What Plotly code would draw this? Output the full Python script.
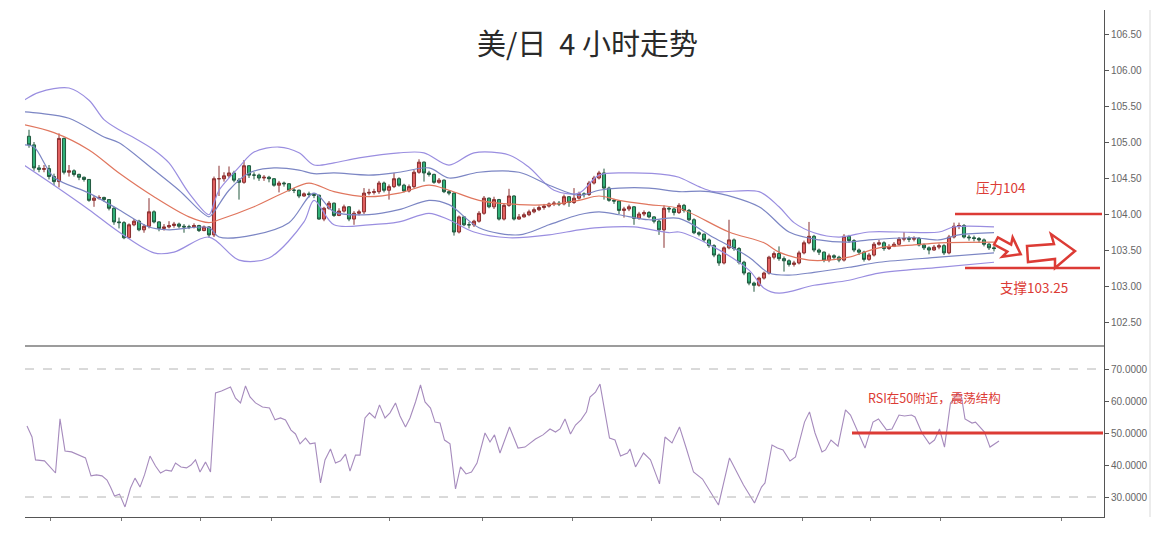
import plotly.graph_objects as go
import math

# ---------------- DATA ----------------
first_open = 105.08
close = [
    104.96, 104.64, 104.62, 104.63, 104.52, 104.45, 105.05, 104.58, 104.60, 104.55,
    104.51, 104.48, 104.19, 104.22, 104.23, 104.20, 104.08, 103.89, 103.88, 103.67,
    103.85, 103.90, 103.78, 103.83, 104.03, 103.89, 103.80, 103.82, 103.84, 103.86,
    103.83, 103.82, 103.82, 103.84, 103.77, 103.82, 103.71, 104.49, 104.49, 104.53,
    104.57, 104.47, 104.44, 104.67, 104.54, 104.54, 104.50, 104.51, 104.49, 104.40,
    104.43, 104.42, 104.33, 104.33, 104.25, 104.28, 104.27, 104.26, 103.93, 104.08,
    104.15, 103.98, 104.04, 104.10, 103.93, 104.01, 104.03, 104.29, 104.30, 104.31,
    104.43, 104.33, 104.38, 104.49, 104.40, 104.32, 104.38, 104.58, 104.72, 104.57,
    104.55, 104.44, 104.47, 104.31, 104.29, 103.75, 103.96, 103.85, 103.85, 103.90,
    104.01, 104.22, 104.10, 104.20, 103.93, 104.12, 104.25, 103.93, 103.96, 103.99,
    104.03, 104.06, 104.09, 104.11, 104.14, 104.15, 104.14, 104.24, 104.16, 104.22,
    104.28, 104.27, 104.43, 104.50, 104.57, 104.36, 104.19, 104.18, 104.05, 104.07,
    104.10, 103.94, 104.00, 104.02, 103.96, 103.90, 103.78, 104.08, 104.07, 104.02,
    104.12, 104.05, 103.92, 103.74, 103.72, 103.64, 103.56, 103.43, 103.32, 103.53,
    103.64, 103.52, 103.33, 103.18, 103.04, 103.01, 103.11, 103.18, 103.40, 103.45,
    103.38, 103.35, 103.30, 103.32, 103.46, 103.60, 103.69, 103.50, 103.47, 103.36,
    103.42, 103.40, 103.36, 103.69, 103.63, 103.50, 103.47, 103.37, 103.43, 103.58,
    103.60, 103.52, 103.55, 103.58, 103.65, 103.66, 103.65, 103.66, 103.57, 103.53,
    103.50, 103.54, 103.56, 103.46, 103.68, 103.83, 103.84, 103.68, 103.67, 103.66,
    103.64, 103.58, 103.53, 103.52]
high = [
    105.17, 105.00, 104.68, 104.68, 104.68, 104.56, 105.12, 105.06, 104.68, 104.62,
    104.56, 104.52, 104.48, 104.25, 104.26, 104.24, 104.20, 104.10, 103.95, 103.90,
    103.87, 103.93, 103.92, 103.86, 104.22, 104.05, 103.90, 103.86, 103.90, 103.89,
    103.88, 103.86, 103.85, 103.87, 103.85, 103.84, 103.83, 104.52, 104.67, 104.58,
    104.66, 104.60, 104.50, 104.75, 104.68, 104.58, 104.56, 104.54, 104.53, 104.50,
    104.46, 104.45, 104.43, 104.36, 104.34, 104.30, 104.31, 104.29, 104.27, 104.10,
    104.18, 104.16, 104.08, 104.13, 104.11, 104.04, 104.06, 104.36, 104.35, 104.35,
    104.46, 104.45, 104.41, 104.57, 104.51, 104.42, 104.41, 104.61, 104.76, 104.73,
    104.60, 104.56, 104.50, 104.48, 104.33, 104.30, 103.98, 103.97, 103.89, 103.92,
    104.04, 104.25, 104.23, 104.24, 104.21, 104.15, 104.35, 104.26, 104.00, 104.02,
    104.06, 104.09, 104.12, 104.14, 104.16, 104.18, 104.18, 104.27, 104.25, 104.36,
    104.31, 104.30, 104.46, 104.53, 104.60, 104.63, 104.38, 104.21, 104.19, 104.10,
    104.13, 104.11, 104.03, 104.05, 104.04, 103.97, 103.92, 104.12, 104.10, 104.09,
    104.15, 104.14, 104.07, 103.94, 103.76, 103.73, 103.66, 103.58, 103.45, 103.55,
    103.92, 103.66, 103.54, 103.35, 103.19, 103.06, 103.13, 103.20, 103.42, 103.48,
    103.55, 103.41, 103.37, 103.35, 103.49, 103.63, 103.89, 103.71, 103.52, 103.48,
    103.45, 103.44, 103.42, 103.72, 103.71, 103.65, 103.52, 103.49, 103.46, 103.61,
    103.64, 103.62, 103.58, 103.61, 103.68, 103.75, 103.69, 103.69, 103.68, 103.59,
    103.55, 103.57, 103.59, 103.58, 103.71, 103.88, 103.88, 103.86, 103.71, 103.70,
    103.68, 103.66, 103.60, 103.56]
low = [
    104.92, 104.60, 104.58, 104.58, 104.48, 104.40, 104.37, 104.55, 104.52, 104.52,
    104.47, 104.45, 104.17, 104.10, 104.20, 104.17, 104.05, 103.85, 103.80, 103.65,
    103.66, 103.83, 103.76, 103.74, 103.80, 103.87, 103.76, 103.77, 103.80, 103.81,
    103.80, 103.74, 103.79, 103.80, 103.75, 103.76, 103.67, 103.68, 104.25, 104.45,
    104.50, 104.44, 104.20, 104.42, 104.50, 104.48, 104.46, 104.46, 104.44, 104.38,
    104.30, 104.38, 104.31, 104.29, 104.22, 104.24, 104.23, 104.22, 103.92, 103.90,
    104.06, 103.96, 103.97, 104.02, 103.90, 103.85, 103.98, 104.00, 104.26, 104.27,
    104.28, 104.30, 104.20, 104.36, 104.38, 104.30, 104.30, 104.36, 104.56, 104.45,
    104.52, 104.42, 104.42, 104.29, 104.26, 103.70, 103.73, 103.83, 103.80, 103.82,
    103.88, 103.99, 104.08, 104.07, 103.91, 103.91, 104.10, 103.91, 103.92, 103.95,
    103.97, 104.01, 104.04, 104.06, 104.09, 104.11, 104.11, 104.12, 104.10, 104.14,
    104.20, 104.23, 104.25, 104.41, 104.48, 104.20, 104.17, 104.14, 104.00, 103.95,
    104.04, 103.85, 103.92, 103.97, 103.94, 103.87, 103.71, 103.53, 104.02, 103.98,
    104.00, 104.02, 103.90, 103.72, 103.69, 103.61, 103.53, 103.40, 103.28, 103.30,
    103.51, 103.49, 103.30, 103.15, 103.01, 102.92, 102.99, 103.09, 103.16, 103.37,
    103.35, 103.20, 103.27, 103.27, 103.30, 103.44, 103.58, 103.47, 103.43, 103.33,
    103.33, 103.36, 103.33, 103.34, 103.60, 103.47, 103.43, 103.34, 103.35, 103.41,
    103.56, 103.49, 103.50, 103.54, 103.56, 103.62, 103.61, 103.62, 103.55, 103.50,
    103.44, 103.49, 103.51, 103.43, 103.44, 103.66, 103.79, 103.66, 103.63, 103.62,
    103.60, 103.55, 103.50, 103.48]
opens = [first_open] + close[:-1]
bars = list(range(len(close)))

# Bollinger band lines (read at sample bars)
bb_up2_i = [-1, 2, 8, 12, 15, 18, 21, 25, 28, 32, 36, 37, 38, 42, 45, 50, 54, 57, 61, 66,
            74, 79, 84, 89, 96, 100, 105, 110, 114, 120, 128, 130, 134, 137, 146, 150, 153,
            157, 162, 168, 174, 182, 185, 193]
bb_up2_v = [105.58, 105.69, 105.75, 105.58, 105.31, 105.17, 105.06, 104.89, 104.71, 104.29,
            103.99, 104.15, 104.33, 104.65, 104.86, 104.93, 104.85, 104.68, 104.71, 104.78,
            104.85, 104.85, 104.68, 104.85, 104.82, 104.65, 104.33, 104.29, 104.54, 104.57,
            104.54, 104.51, 104.38, 104.31, 104.31, 104.10, 103.88, 103.74, 103.68, 103.75,
            103.75, 103.75, 103.82, 103.82]
bb_up1_i = [-1, 2, 8, 15, 18, 25, 30, 36, 37, 40, 44, 49, 54, 57, 61, 68, 74, 80, 84, 90,
            98, 104, 110, 114, 118, 124, 130, 136, 146, 152, 158, 164, 168, 177, 182, 186, 193]
bb_up1_v = [105.42, 105.40, 105.33, 105.07, 104.99, 104.61, 104.33, 103.96, 104.03, 104.33,
            104.57, 104.64, 104.61, 104.56, 104.57, 104.54, 104.58, 104.64, 104.50, 104.58,
            104.58, 104.40, 104.26, 104.33, 104.36, 104.36, 104.31, 104.31, 104.10, 103.75,
            103.64, 103.61, 103.64, 103.67, 103.64, 103.71, 103.74]
bb_mid_i = [-1, 5, 12, 18, 25, 32, 36, 38, 45, 52, 56, 61, 68, 74, 80, 84, 90, 98, 104, 110,
            114, 118, 124, 130, 140, 147, 150, 156, 160, 164, 170, 177, 182, 193]
bb_mid_v = [105.24, 105.13, 104.89, 104.57, 104.24, 103.96, 103.88, 103.92, 104.10, 104.33,
            104.43, 104.31, 104.24, 104.29, 104.40, 104.33, 104.19, 104.13, 104.13, 104.19,
            104.25, 104.19, 104.13, 104.08, 103.75, 103.60, 103.47, 103.36, 103.36, 103.40,
            103.53, 103.57, 103.60, 103.61]
bb_dn1_i = [-1, 1, 5, 12, 18, 24, 28, 36, 38, 45, 52, 57, 61, 68, 74, 80, 84, 90, 98, 104,
            110, 114, 118, 124, 130, 137, 144, 148, 152, 157, 164, 170, 182, 193]
bb_dn1_v = [104.96, 104.93, 104.51, 104.29, 104.06, 103.82, 103.78, 103.81, 103.68, 103.71,
            103.88, 104.29, 104.03, 103.99, 104.06, 104.19, 104.13, 103.81, 103.71, 103.85,
            103.99, 104.03, 103.99, 103.92, 103.94, 103.67, 103.40, 103.18, 103.15, 103.19,
            103.26, 103.33, 103.40, 103.46]
bb_dn2_i = [-1, 5, 12, 18, 25, 29, 36, 42, 48, 55, 57, 61, 68, 74, 80, 84, 89, 96, 104, 110,
            114, 121, 128, 130, 137, 144, 147, 150, 157, 164, 170, 182, 193]
bb_dn2_v = [104.68, 104.40, 104.06, 103.75, 103.46, 103.47, 103.68, 103.36, 103.39, 103.89,
            104.19, 103.85, 103.85, 103.89, 104.01, 103.92, 103.75, 103.67, 103.71, 103.78,
            103.81, 103.82, 103.74, 103.75, 103.54, 103.22, 102.97, 102.90, 103.01, 103.08,
            103.18, 103.26, 103.33]

# RSI line (bar position, value)
rsi_i = [-0.4, 0.6, 1.3, 3.1, 4.2, 5.3, 6.2, 7.2, 8.5, 11.3, 12.4, 13.5, 14.6, 15.6, 16.3,
         17.1, 18.1, 19.2, 20.3, 21.2, 22.2, 23.1, 24.2, 25.3, 26.3, 27.4, 28.5, 29.3, 30.4,
         31.5, 32.4, 33.3, 34.2, 35.3, 36.3, 37.3, 38.5, 40.3, 41.3, 42.3, 43.3, 44.2, 45.3,
         46.7, 48.1, 49.2, 50.3, 51.3, 52.4, 53.3, 54.2, 55.3, 56.2, 57.2, 58.3, 59.2, 60.3,
         61.3, 62.3, 63.3, 64.2, 65.3, 66.2, 67.2, 68.1, 69.2, 70.1, 71.2, 72.2, 73.3, 74.2,
         75.3, 76.2, 77.3, 78.3, 79.2, 80.3, 81.2, 82.2, 83.1, 84.2, 85.3, 86.3, 87.4, 88.5,
         89.6, 91.2, 92.2, 93.1, 94.2, 96.1, 97.8, 99.2, 101.3, 102.8, 104.2, 105.3, 106.2,
         107.2, 108.3, 109.3, 110.4, 111.5, 112.2, 113.3, 114.2, 116.1, 117.2, 118.3, 119.7,
         120.2, 121.3, 122.9, 124.3, 126.1, 127.2, 128.6, 130.1, 131.5, 132.9, 134.7, 136.5,
         137.9, 140.1, 142.9, 145.1, 146.5, 147.2, 148.6, 149.7, 150.8, 152.2, 153.3, 155.1,
         156.1, 157.2, 158.6, 159.3, 160.4, 161.8, 163.3, 164.3, 165.8, 167.2, 168.8, 169.9,
         171.5, 172.6, 174.0, 175.1, 176.5, 177.2, 178.6, 180.1, 181.1, 182.1, 183.1, 184.3,
         185.8, 186.5, 187.2, 188.6, 189.3, 191.1, 192.2, 194.0]
rsi_v = [52.2, 48.75, 41.6, 41.3, 39.4, 37.5, 54.4, 44.4, 44.1, 42.2, 36.6, 36.9, 36.6, 35.3,
         33.1, 30.3, 30.9, 26.9, 32.8, 35.9, 33.1, 36.9, 42.8, 39.7, 37.5, 38.4, 38.1, 40.6,
         39.4, 39.1, 40.0, 41.6, 37.8, 40.9, 37.8, 62.5, 63.1, 64.4, 60.9, 59.4, 64.7, 61.3,
         59.4, 58.1, 57.8, 54.1, 54.7, 54.1, 50.9, 49.7, 46.6, 48.4, 46.6, 46.9, 34.4, 41.6,
         45.0, 40.6, 41.3, 43.4, 38.1, 43.1, 43.1, 54.7, 56.3, 54.7, 58.8, 54.7, 56.3, 59.4,
         55.3, 51.9, 54.7, 59.7, 65.0, 59.7, 57.8, 53.4, 53.1, 47.8, 46.6, 32.5, 39.4, 37.2,
         37.8, 40.6, 50.0, 47.2, 49.4, 43.75, 51.9, 45.3, 45.6, 48.1, 49.4, 51.25, 50.3, 51.25,
         54.4, 49.7, 52.5, 54.1, 56.6, 61.25, 62.8, 65.3, 48.4, 47.8, 42.8, 43.75, 45.0, 39.4,
         43.75, 41.6, 34.1, 48.75, 46.9, 51.9, 45.0, 37.8, 35.6, 31.25, 27.5, 42.2, 33.75,
         28.1, 33.1, 34.4, 46.25, 45.3, 44.7, 41.25, 42.5, 53.4, 56.6, 50.0, 44.1, 44.7, 47.8,
         45.9, 57.2, 55.6, 50.0, 45.3, 53.4, 54.4, 51.0, 51.25, 55.6, 55.3, 55.6, 55.0, 50.0,
         46.6, 47.8, 51.25, 45.6, 59.4, 62.5, 61.25, 54.4, 53.1, 53.4, 50.3, 45.6, 47.5]

price_ticks = [102.5, 103.0, 103.5, 104.0, 104.5, 105.0, 105.5, 106.0, 106.5]
rsi_ticks = [30, 40, 50, 60, 70]
time_ticks = [4.2, 18.4, 34.2, 48.4, 72, 90.6, 108.6, 124.4, 138.2, 154.6, 168.2, 182.2, 206.4]
resistance = 104.00
support = 103.25
rsi_mid = 50
rsi_high, rsi_low = 70, 30

title_text = "美/日\u00a0\u00a04\u00a0小时走势"
res_text = "压力104"
sup_text = "支撑103.25"
rsi_text = "RSI在50附近，震荡结构"

# ---------------- LAYOUT HELPERS ----------------
# the page body has an 8px default margin: the figure is sized so that it fills
# the 1162x542 window exactly, and all screen positions below are window pixels.
OFF = 8
W, H = 1162 - OFF, 542 - OFF
ML, MR, MT, MB = 25 - OFF, 58, 10 - OFF, 25
PW, PH = W - ML - MR, H - MT - MB
SPLIT_PX = 345           # window y of the panel separator
BOTTOM_PX = 517          # window y of the plot bottom
split = (BOTTOM_PX - SPLIT_PX) / PH


def px(x):
    return (x - OFF - ML) / PW


def py(y):
    return (BOTTOM_PX - y) / PH


RED = "#dc3b35"
CJK = "Noto Sans CJK SC"

fig = go.Figure()
fig.add_trace(go.Candlestick(
    x=bars, open=opens, high=high, low=low, close=close,
    increasing=dict(fillcolor="#e06060", line=dict(color="#8a3030", width=1)),
    decreasing=dict(fillcolor="#30b077", line=dict(color="#22583f", width=1)),
    whiskerwidth=0, xaxis="x", yaxis="y", showlegend=False, hoverinfo="skip"))

band_styles = [
    (bb_up2_i, bb_up2_v, "#9a8ee0"),
    (bb_up1_i, bb_up1_v, "#7c86c4"),
    (bb_mid_i, bb_mid_v, "#e0765e"),
    (bb_dn1_i, bb_dn1_v, "#7c86c4"),
    (bb_dn2_i, bb_dn2_v, "#9a8ee0"),
]
for xi, yv, col in band_styles:
    fig.add_trace(go.Scatter(x=xi, y=yv, mode="lines",
                             line=dict(color=col, width=1.2, shape="spline", smoothing=0.9),
                             xaxis="x", yaxis="y", showlegend=False, hoverinfo="skip"))

fig.add_trace(go.Scatter(x=rsi_i, y=rsi_v, mode="lines",
                         line=dict(color="#a68bbd", width=1.1),
                         xaxis="x2", yaxis="y2", showlegend=False, hoverinfo="skip"))

# bar i sits at window x = 29 + 5*i
xr = [(25 - 29) / 5, (1104 - 29) / 5]
y_top = 106.5 + (34 - 10) / 72
y_bot = 106.5 - (SPLIT_PX - 34) / 72
r_top = 70 + (369 - SPLIT_PX) / 3.2
r_bot = 30 - (BOTTOM_PX - 497) / 3.2

tickfont = dict(family="Liberation Sans", size=10, color="#666")

shapes = [
    dict(type="line", xref="x2 domain", yref="y2", x0=0, x1=1, y0=rsi_high, y1=rsi_high,
         line=dict(color="#b4b4b4", width=1, dash="dash")),
    dict(type="line", xref="x2 domain", yref="y2", x0=0, x1=1, y0=rsi_low, y1=rsi_low,
         line=dict(color="#b4b4b4", width=1, dash="dash")),
    dict(type="line", xref="paper", yref="y", x0=px(955), x1=px(1102), y0=resistance,
         y1=resistance, line=dict(color=RED, width=2.5)),
    dict(type="line", xref="paper", yref="y", x0=px(965), x1=px(1100), y0=support,
         y1=support, line=dict(color=RED, width=2.5)),
    dict(type="line", xref="paper", yref="y2", x0=px(852), x1=px(1103), y0=rsi_mid,
         y1=rsi_mid, line=dict(color=RED, width=3)),
    dict(type="line", xref="paper", yref="paper", x0=px(1150), x1=px(1150), y0=0, y1=1,
         line=dict(color="#ececec", width=2)),
]


def path(points):
    return "M " + " L ".join(f"{px(a):.5f},{py(b):.5f}" for a, b in points) + " Z"


# small tilted hollow arrow
ang = math.radians(28)
local = [(0, -4), (15, -4), (13, -11), (28, 0), (13, 11), (15, 4), (0, 4)]
ox, oy = 996, 241
arrow1 = [(ox + u * math.cos(ang) - v * math.sin(ang), oy + u * math.sin(ang) + v * math.cos(ang))
          for u, v in local]
arrow2 = [(1027, 246), (1054, 244), (1051, 234), (1075, 251), (1055, 268), (1055, 259), (1028, 262)]
for pts in (arrow1, arrow2):
    shapes.append(dict(type="path", xref="paper", yref="paper", path=path(pts),
                       line=dict(color=RED, width=2.5), fillcolor="white"))

annotations = [
    dict(text=title_text, x=px(587), y=py(42), xref="paper", yref="paper", showarrow=False,
         xanchor="center", yanchor="middle", font=dict(family=CJK, size=29, color="#2a2a2a")),
    dict(text=res_text, x=px(1001), y=py(187), xref="paper", yref="paper", showarrow=False,
         xanchor="center", yanchor="middle", font=dict(family=CJK, size=13.5, color=RED)),
    dict(text=sup_text, x=px(1034), y=py(287), xref="paper", yref="paper", showarrow=False,
         xanchor="center", yanchor="middle", font=dict(family=CJK, size=13.5, color=RED)),
    dict(text=rsi_text, x=px(934), y=py(397), xref="paper", yref="paper", showarrow=False,
         xanchor="center", yanchor="middle", font=dict(family=CJK, size=12.5, color=RED)),
]

fig.update_layout(
    width=W, height=H, margin=dict(l=ML, r=MR, t=MT, b=MB),
    paper_bgcolor="white", plot_bgcolor="white", hovermode=False,
    boxgap=0.12,
    xaxis=dict(domain=[0, 1], range=xr, anchor="y", showticklabels=False, showgrid=False,
               zeroline=False, showline=True, linecolor="#9c9c9c", linewidth=2, ticks="",
               rangeslider=dict(visible=False)),
    yaxis=dict(domain=[split, 1], range=[y_bot, y_top], anchor="x", side="right",
               tickvals=price_ticks, ticktext=[f"{v:.2f}" for v in price_ticks],
               ticks="outside", ticklen=4, tickcolor="#555", showline=True, linecolor="#555",
               linewidth=1, showgrid=False, zeroline=False, tickfont=tickfont),
    xaxis2=dict(domain=[0, 1], range=xr, anchor="y2", showticklabels=False, showgrid=False,
                zeroline=False, showline=True, linecolor="#555", linewidth=1,
                tickvals=time_ticks, ticks="outside", ticklen=3, tickcolor="#777"),
    yaxis2=dict(domain=[0, split], range=[r_bot, r_top], anchor="x2", side="right",
                tickvals=rsi_ticks, ticktext=[f"{v:.4f}" for v in rsi_ticks],
                ticks="outside", ticklen=4, tickcolor="#555", showline=True, linecolor="#555",
                linewidth=1, showgrid=False, zeroline=False, tickfont=tickfont),
    shapes=shapes, annotations=annotations,
)

fig.write_html("out.html")
